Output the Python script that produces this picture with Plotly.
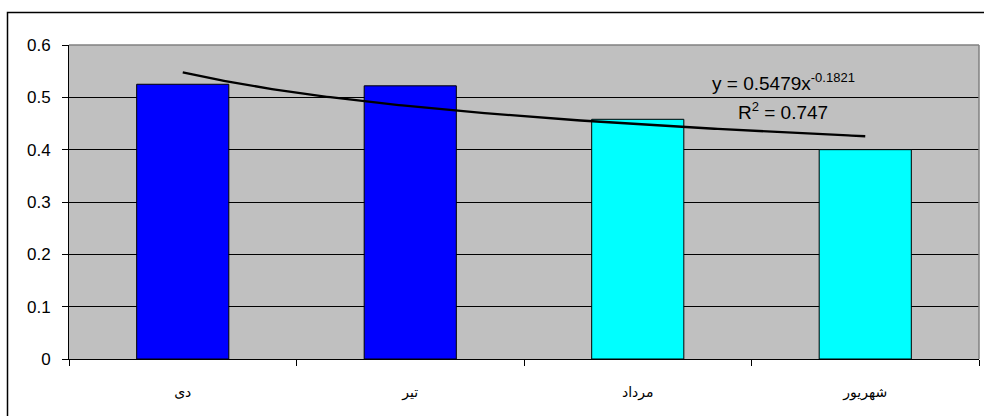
import numpy as np
import plotly.graph_objects as go

categories = ["دی", "تیر", "مرداد", "شهریور"]
values = [0.525, 0.522, 0.458, 0.400]
bar_colors = ["#0000FF", "#0000FF", "#00FFFF", "#00FFFF"]
y_ticks = [0, 0.1, 0.2, 0.3, 0.4, 0.5, 0.6]
y_ticktext = ["0", "0.1", "0.2", "0.3", "0.4", "0.5", "0.6"]
trend_a = 0.5479
trend_b = -0.1821
r2 = 0.747

FONT = "Liberation Sans"

fig = go.Figure()
fig.add_trace(go.Bar(
    x=categories, y=values, width=0.405,
    marker=dict(color=bar_colors, line=dict(color="black", width=1)),
    showlegend=False, hoverinfo="skip",
))

tx = np.linspace(1, len(values), 200)
ty = trend_a * tx ** trend_b
fig.add_trace(go.Scatter(
    x=tx, y=ty, xaxis="x2", mode="lines",
    line=dict(color="black", width=2.3), showlegend=False, hoverinfo="skip",
))

fig.update_layout(
    width=984, height=416,
    margin=dict(l=69, r=5, t=45, b=57),
    paper_bgcolor="white", plot_bgcolor="#C0C0C0",
    font=dict(family=FONT, size=16, color="black"),
    xaxis=dict(
        type="category", range=[-0.5, 3.5], tickson="boundaries",
        ticks="outside", ticklen=6, tickcolor="black", tickwidth=1,
        showline=True, linecolor="black", linewidth=1,
        showgrid=False, zeroline=False,
        tickfont=dict(size=14, family="DejaVu Sans", color="black"), ticklabelstandoff=20,
    ),
    xaxis2=dict(overlaying="x", range=[0.5, 4.5], visible=False),
    yaxis=dict(
        range=[0, 0.6], tickmode="array", tickvals=y_ticks, ticktext=y_ticktext,
        ticks="outside", ticklen=6, tickcolor="black", tickwidth=1,
        showline=True, linecolor="black", linewidth=1,
        showgrid=True, gridcolor="black", gridwidth=1, zeroline=False,
        tickfont=dict(size=17, family=FONT, color="black"), ticklabelstandoff=8,
    ),
    bargap=0.595,
)

fig.add_shape(type="line", xref="paper", yref="paper", x0=0, x1=1, y0=1, y1=1,
              line=dict(color="#808080", width=1.5))
fig.add_shape(type="line", xref="paper", yref="paper", x0=1, x1=1, y0=0, y1=1,
              line=dict(color="#808080", width=1.5))
fig.add_shape(type="rect", xref="paper", yref="paper",
              x0=(7.5 - 69) / 910, x1=1.1, y0=-0.3, y1=(359 - 12.5) / 314,
              line=dict(color="black", width=1.5), fillcolor="rgba(0,0,0,0)", layer="above")

fig.add_annotation(x=3.64, y=0.53, xref="x2", yref="y",
                   text=f"y = {trend_a}x<sup><span style='font-size:13px'>{trend_b}</span></sup>",
                   showarrow=False, font=dict(size=19, family=FONT, color="black"))
fig.add_annotation(x=3.64, y=0.474, xref="x2", yref="y",
                   text=f"R<sup><span style='font-size:13px'>2</span></sup> = {r2}", showarrow=False,
                   font=dict(size=19, family=FONT, color="black"))

fig.write_html("out.html")
